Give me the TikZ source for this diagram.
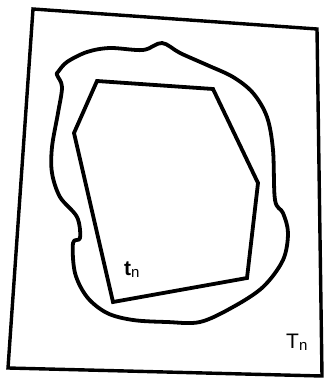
\documentclass[tikz,border=0pt]{standalone}
\usepackage{fontspec}
\setmainfont{Liberation Sans}
\begin{document}
\begin{tikzpicture}[x=1pt,y=-1pt,
  thick line/.style={line width=3.8pt,line join=round,line cap=round},
  frame line/.style={line width=3.4pt,line join=miter},
  lbl/.style={inner sep=0pt,font=\fontsize{21}{21}\selectfont}]
\useasboundingbox (0,0) rectangle (323,379);
% outer frame
\coordinate (A) at (33,9);
\coordinate (B) at (317,29);
\coordinate (C) at (322,376);
\coordinate (D) at (8,368);
\draw[frame line] (A) -- (B) -- (C) -- (D) -- cycle;
% blob
\draw[thick line] plot[smooth cycle, tension=0.55] coordinates {
 (58,72) (67,62) (87,52) (110,48) (143,50) (162,43) (180,53) (207,65)
 (233,77) (253,93) (267,117) (273,150) (275,200) (283,213) (288,233)
 (283,260) (263,287) (233,307) (200,322) (167,322) (133,320) (107,313)
 (87,297) (75,273) (73,243) (80,238) (77,217) (60,197) (52,173) (52,147)
 (58,113) (62,87) (57,75)};
% inner polygon
\coordinate (p1) at (97,81);
\coordinate (p2) at (213,89);
\coordinate (p3) at (258,183);
\coordinate (p4) at (247,278);
\coordinate (p5) at (113,302);
\coordinate (p6) at (74,133);
\draw[thick line,line join=miter] (p1) -- (p2) -- (p3) -- (p4) -- (p5) -- (p6) -- cycle;
% labels
\node[lbl,anchor=base west] (tn) at (124,275) {\textbf{t}\raisebox{-2pt}{\fontsize{15}{15}\selectfont n}};
\node[lbl,anchor=base west] (Tn) at (286,348) {T\raisebox{-2pt}{\fontsize{15}{15}\selectfont n}};
\end{tikzpicture}
\end{document}
